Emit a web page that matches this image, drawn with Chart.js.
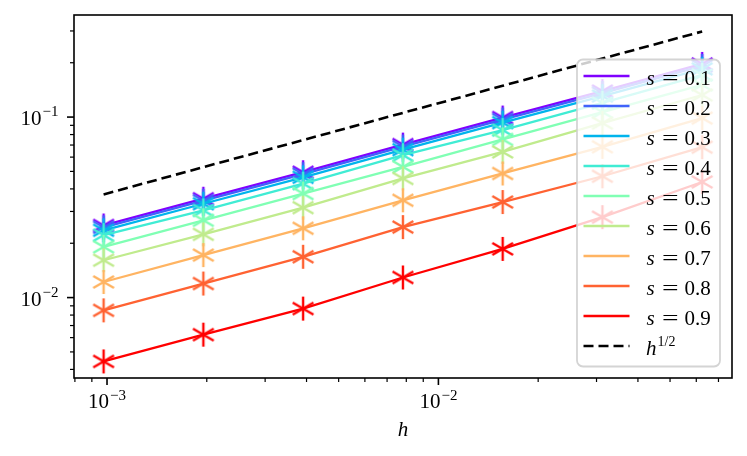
<!DOCTYPE html>
<html>
<head>
<meta charset="utf-8">
<script src="https://cdn.jsdelivr.net/npm/chart.js@4.4.0/dist/chart.umd.min.js"></script>
<style>
html,body{margin:0;padding:0;background:#fff;}
#wrap{width:747px;height:456px;position:relative;}
</style>
</head>
<body>
<div id="wrap"><canvas id="c" width="747" height="456"></canvas></div>
<script>
// ---- data ----
const h = [0.0009765625, 0.001953125, 0.00390625, 0.0078125, 0.015625, 0.03125, 0.0625];
const sLabels = ['0.1','0.2','0.3','0.4','0.5','0.6','0.7','0.8','0.9'];
const err01 = [0.0251, 0.0353, 0.0495, 0.0704, 0.0994, 0.1394, 0.1970];
const err02 = [0.0245, 0.0344, 0.0483, 0.0686, 0.0969, 0.1359, 0.1920];
const err03 = [0.0236, 0.0331, 0.0464, 0.0660, 0.0932, 0.1308, 0.1848];
const err04 = [0.0222, 0.0304, 0.0428, 0.0615, 0.0847, 0.1197, 0.1711];
const err05 = [0.0191, 0.0268, 0.0377, 0.0530, 0.0752, 0.1066, 0.1506];
const err06 = [0.0161, 0.0224, 0.0315, 0.0457, 0.0641, 0.0926, 0.1325];
const err07 = [0.0122, 0.0172, 0.0242, 0.0346, 0.0487, 0.0684, 0.0987];
const err08 = [0.00850, 0.01196, 0.01683, 0.02457, 0.03384, 0.0470, 0.0681];
const err09 = [0.00443, 0.00623, 0.00869, 0.01292, 0.01860, 0.0279, 0.0437];
const refHalf = [0.0373, 0.0528, 0.0746, 0.1055, 0.149, 0.211, 0.298];
const seriesColors = ['#8000ff','#4062fa','#00b4ec','#40ecd4','#80ffb4','#c0eb8d','#ffb462','#ff6232','#ff0000'];
const xMajorTicks = [1e-3, 1e-2];
const xMajorExp = ['\u22123', '\u22122'];
const xMinorTicks = [8e-4, 9e-4, 2e-3, 3e-3, 4e-3, 5e-3, 6e-3, 7e-3, 8e-3, 9e-3, 2e-2, 3e-2, 4e-2, 5e-2, 6e-2, 7e-2];
const yMajorTicks = [1e-2, 1e-1];
const yMajorExp = ['\u22122', '\u22121'];
const yMinorTicks = [4e-3, 5e-3, 6e-3, 7e-3, 8e-3, 9e-3, 2e-2, 3e-2, 4e-2, 5e-2, 6e-2, 7e-2, 8e-2, 9e-2, 2e-1, 3e-1];
const xRange = [7.95e-4, 0.0769];
const yRange = [0.003585, 0.3677];

const allErr = [err01, err02, err03, err04, err05, err06, err07, err08, err09];

function makeAsterisk(color){
  const cv = document.createElement('canvas');
  const S = 30; cv.width = S; cv.height = S;
  const g = cv.getContext('2d');
  g.strokeStyle = color; g.lineWidth = 2.4; g.lineCap = 'butt';
  const r = 12, c = S/2;
  for (let k = 0; k < 3; k++){
    const a = Math.PI/2 + k*Math.PI/3;
    g.beginPath();
    g.moveTo(c + r*Math.cos(a), c - r*Math.sin(a));
    g.lineTo(c - r*Math.cos(a), c + r*Math.sin(a));
    g.stroke();
  }
  return cv;
}

const datasets = allErr.map((arr, i) => ({
  label: 's = ' + sLabels[i],
  data: h.map((x, j) => ({x: x, y: arr[j]})),
  borderColor: seriesColors[i],
  backgroundColor: seriesColors[i],
  borderWidth: 2.3,
  pointStyle: makeAsterisk(seriesColors[i]),
  pointRadius: 12,
  order: -i,
  tension: 0
}));
datasets.push({
  label: 'h^{1/2}',
  data: h.map((x, j) => ({x: x, y: refHalf[j]})),
  borderColor: '#000',
  borderWidth: 2.6,
  borderDash: [10, 5],
  pointRadius: 0,
  order: -20,
  tension: 0
});

const SERIF = '"Liberation Serif", "DejaVu Serif", serif';

const decorPlugin = {
  id: 'decor',
  afterDraw(chart){
    const ctx = chart.ctx;
    const a = chart.chartArea;
    const xs = chart.scales.x, ys = chart.scales.y;
    ctx.save();
    // legend box
    const lx = 577, ly = 59.5, lw = 143, lh = 307, rr = 6;
    ctx.beginPath();
    ctx.roundRect(lx, ly, lw, lh, rr);
    ctx.fillStyle = 'rgba(255,255,255,0.8)';
    ctx.fill();
    ctx.lineWidth = 1.8;
    ctx.strokeStyle = 'rgba(204,204,204,0.85)';
    ctx.stroke();
    // entries
    for (let k = 0; k < 10; k++){
      const yy = 76 + 30*k;
      ctx.beginPath();
      ctx.moveTo(583.5, yy); ctx.lineTo(629.5, yy);
      if (k < 9){
        ctx.strokeStyle = seriesColors[k]; ctx.lineWidth = 2.3; ctx.setLineDash([]);
      } else {
        ctx.strokeStyle = '#000'; ctx.lineWidth = 2.6; ctx.setLineDash([10,5]);
      }
      ctx.stroke();
      ctx.setLineDash([]);
      ctx.fillStyle = '#000';
      ctx.textBaseline = 'alphabetic';
      ctx.textAlign = 'left';
      const base = yy + 8.5;
      if (k < 9){
        ctx.font = 'italic 21px ' + SERIF;
        ctx.fillText('s', 646.5, base);
        ctx.font = '21px ' + SERIF;
        ctx.save();
        ctx.translate(670.3, base);
        ctx.scale(1.4, 1);
        ctx.textAlign = 'center';
        ctx.fillText('=', 0, 0);
        ctx.restore();
        ctx.fillText(sLabels[k], 684.5, base);
      } else {
        ctx.font = 'italic 21px ' + SERIF;
        ctx.fillText('h', 646, base);
        ctx.font = '14px ' + SERIF;
        ctx.fillText('1/2', 657.5, base - 9);
      }
    }
    // spines
    ctx.strokeStyle = '#000';
    ctx.lineWidth = 1.6;
    ctx.strokeRect(a.left, a.top, a.right - a.left, a.bottom - a.top);
    // ticks
    ctx.lineWidth = 1.6;
    xMajorTicks.forEach(v => {
      const px = xs.getPixelForValue(v);
      ctx.beginPath(); ctx.moveTo(px, a.bottom); ctx.lineTo(px, a.bottom + 7); ctx.stroke();
    });
    yMajorTicks.forEach(v => {
      const py = ys.getPixelForValue(v);
      ctx.beginPath(); ctx.moveTo(a.left, py); ctx.lineTo(a.left - 7, py); ctx.stroke();
    });
    ctx.lineWidth = 1.2;
    xMinorTicks.forEach(v => {
      const px = xs.getPixelForValue(v);
      if (px < a.left - 0.5 || px > a.right + 0.5) return;
      ctx.beginPath(); ctx.moveTo(px, a.bottom); ctx.lineTo(px, a.bottom + 4); ctx.stroke();
    });
    yMinorTicks.forEach(v => {
      const py = ys.getPixelForValue(v);
      if (py < a.top - 0.5 || py > a.bottom + 0.5) return;
      ctx.beginPath(); ctx.moveTo(a.left, py); ctx.lineTo(a.left - 4, py); ctx.stroke();
    });
    // tick labels
    ctx.fillStyle = '#000';
    ctx.textAlign = 'left';
    ctx.textBaseline = 'alphabetic';
    xMajorTicks.forEach((v, i) => {
      const px = xs.getPixelForValue(v);
      ctx.font = '21px ' + SERIF;
      const w1 = ctx.measureText('10').width;
      ctx.font = '15px ' + SERIF;
      const w2 = ctx.measureText(xMajorExp[i]).width;
      const x0 = px - (w1 + w2 + 1) / 2;
      ctx.font = '21px ' + SERIF;
      ctx.fillText('10', x0, 408);
      ctx.font = '15px ' + SERIF;
      ctx.fillText(xMajorExp[i], x0 + w1 + 1, 399.5);
    });
    yMajorTicks.forEach((v, i) => {
      const py = ys.getPixelForValue(v);
      ctx.font = '21px ' + SERIF;
      const w1 = ctx.measureText('10').width;
      ctx.font = '15px ' + SERIF;
      const w2 = ctx.measureText(yMajorExp[i]).width;
      const xEnd = 58.5;
      const x0 = xEnd - w2 - w1 - 1;
      ctx.font = '21px ' + SERIF;
      ctx.fillText('10', x0, py + 8.3);
      ctx.font = '15px ' + SERIF;
      ctx.fillText(yMajorExp[i], x0 + w1 + 1, py - 1);
    });
    // axis label
    ctx.font = 'italic 21px ' + SERIF;
    ctx.textAlign = 'center';
    ctx.fillText('h', (a.left + a.right) / 2, 436);
    ctx.restore();
  }
};

new Chart(document.getElementById('c'), {
  type: 'line',
  data: { datasets: datasets },
  options: {
    responsive: false,
    animation: false,
    devicePixelRatio: 1,
    layout: { padding: { left: 74, top: 15, right: 15, bottom: 78 } },
    plugins: { legend: { display: false }, tooltip: { enabled: false } },
    events: [],
    scales: {
      x: { type: 'logarithmic', min: xRange[0], max: xRange[1], display: false },
      y: { type: 'logarithmic', min: yRange[0], max: yRange[1], display: false }
    }
  },
  plugins: [decorPlugin]
});
</script>
</body>
</html>
